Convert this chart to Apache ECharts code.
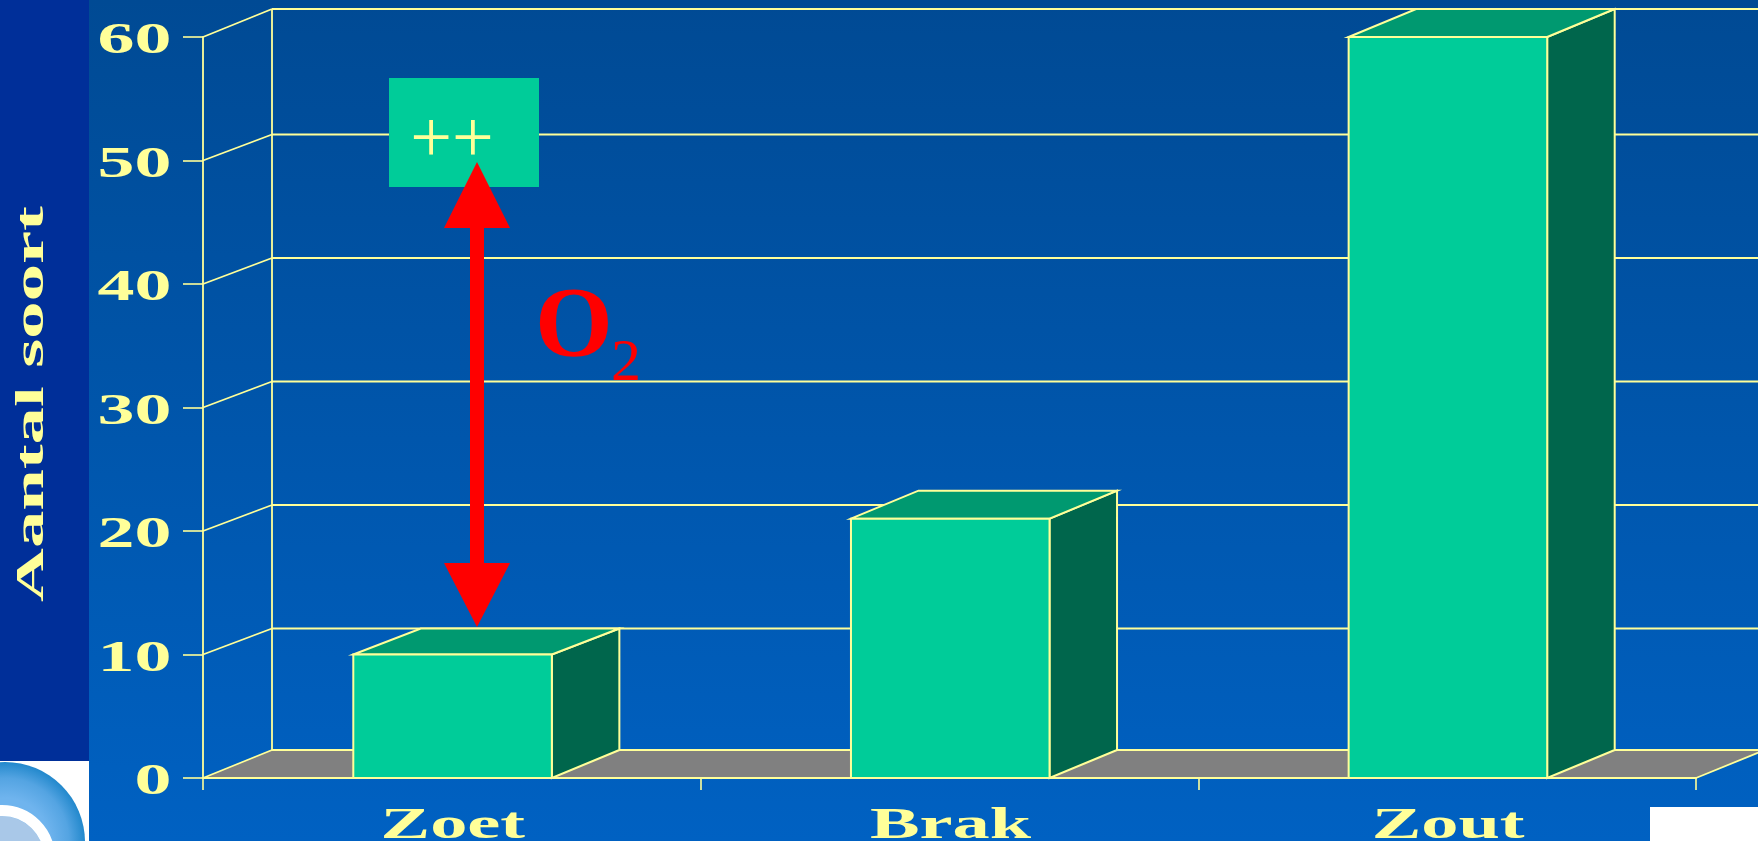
<!DOCTYPE html>
<html>
<head>
<meta charset="utf-8">
<style>html,body{margin:0;padding:0;background:#0060c0}#c{width:1758px;height:841px}</style>
<script src="https://cdn.jsdelivr.net/npm/echarts@6/dist/echarts.min.js"></script>
</head>
<body>
<div id="c"></div>
<script>
const categories = ['Zoet', 'Brak', 'Zout'];
const soorten = [10, 21, 60];
const yTicks = [0, 10, 20, 30, 40, 50, 60];
const yTitle = 'Aantal soort';
const noteText = '++';

const LINE = '#FFFF99', SERIF = '"Liberation Serif", serif';
const DX = 69;
// the reference's perspective offset is slightly smaller on inner gridline levels
const dyAt = v => (v % 10 === 0 && v > 0 && v < 60) ? 26 : 28;

const chart = echarts.init(document.getElementById('c'), null, {renderer: 'canvas'});

function wallItem(params, api) {
  const v = api.value(0), cs = params.coordSys;
  const y = api.coord([0, v])[1], DY = dyAt(v);
  const l = cs.x, r = cs.x + cs.width;
  const children = [];
  const ls = {stroke: LINE, lineWidth: 1.8};
  if (v === 0) {
    children.push({type: 'polygon', shape: {points: [[l, y], [l + DX, y - DY], [r + DX, y - DY], [r, y]]},
      style: {fill: '#808080', stroke: null}});
    const last = yTicks[yTicks.length - 1];
    const top = api.coord([0, last])[1] - dyAt(last);
    children.push({type: 'line', shape: {x1: l + DX, y1: y - DY, x2: l + DX, y2: top}, style: ls});
    children.push({type: 'line', shape: {x1: r, y1: y, x2: r + DX, y2: y - DY}, style: ls});
  }
  children.push({type: 'line', shape: {x1: l, y1: y, x2: l + DX, y2: y - DY}, style: ls});
  children.push({type: 'line', shape: {x1: l + DX, y1: y - DY, x2: r + DX, y2: y - DY}, style: ls});
  return {type: 'group', children};
}

function barItem(params, api) {
  const c = api.coord([api.value(0), api.value(1)]);
  const base = api.coord([api.value(0), 0])[1];
  const w = api.size([1, 0])[0] * 0.4;
  const x0 = c[0] - w / 2 + 1, x1 = c[0] + w / 2 + 0.5, y = c[1];
  const s = {stroke: LINE, lineWidth: 2, lineJoin: 'miter'};
  const d = DX - 1.5, DY = dyAt(api.value(1)), DB = dyAt(0);
  return {type: 'group', children: [
    {type: 'polygon', shape: {points: [[x1, y], [x1 + d, y - DY], [x1 + d, base - DB], [x1, base]]}, style: Object.assign({fill: '#00664C'}, s)},
    {type: 'polygon', shape: {points: [[x0, y], [x0 + d, y - DY], [x1 + d, y - DY], [x1, y]]}, style: Object.assign({fill: '#009970'}, s)},
    {type: 'rect', shape: {x: x0, y: y, width: x1 - x0, height: base - y}, style: Object.assign({fill: '#00CC99'}, s)}
  ]};
}

function yLabelItem(params, api) {
  const v = api.value(0);
  const y = api.coord([0, v])[1];
  return {type: 'text', x: 171.5, y: y + 5, scaleX: 1.68,
    style: {text: String(v), fill: LINE, font: 'bold 44px ' + SERIF, align: 'right', verticalAlign: 'middle'}};
}

function xLabelItem(params, api) {
  const c = api.coord([api.value(0), 0]);
  return {type: 'text', x: c[0] + 1, y: 827, scaleX: 1.69,
    style: {text: categories[api.value(0)], fill: LINE, font: 'bold 44px ' + SERIF, align: 'center', verticalAlign: 'middle'}};
}

const arrowX = 477, arrow = [
  [arrowX, 162], [arrowX + 33, 228], [arrowX + 7, 228], [arrowX + 7, 563], [arrowX + 33, 563],
  [arrowX, 627], [arrowX - 33, 563], [arrowX - 7, 563], [arrowX - 7, 228], [arrowX - 33, 228]
];

chart.setOption({
  animation: false,
  backgroundColor: {type: 'linear', x: 0, y: 0, x2: 0, y2: 1, colorStops: [
    {offset: 0, color: '#004A94'}, {offset: 1, color: '#0061C2'}]},
  grid: {left: 203, top: 37, width: 1493, height: 741, containLabel: false},
  xAxis: {type: 'category', data: categories, boundaryGap: true, z: 5,
    axisLine: {lineStyle: {color: LINE, width: 2}},
    axisTick: {show: true, length: 12, lineStyle: {color: LINE, width: 1.6}},
    axisLabel: {show: false}, splitLine: {show: false}},
  yAxis: {type: 'value', min: 0, max: 60, interval: 10,
    axisLine: {show: true, lineStyle: {color: LINE, width: 1.8}},
    axisTick: {show: true, length: 20, lineStyle: {color: LINE, width: 1.6}},
    axisLabel: {show: false}, splitLine: {show: false}},
  series: [
    {type: 'custom', name: 'wall', data: yTicks.map(v => [v]), encode: {y: 0}, renderItem: wallItem, z: 1, silent: true},
    {type: 'custom', name: 'Aantal soort', data: categories.map((c, i) => [i, soorten[i]]), encode: {x: 0, y: 1}, renderItem: barItem, z: 3},
    {type: 'custom', name: 'yLabels', data: yTicks.map(v => [v]), encode: {y: 0}, renderItem: yLabelItem, z: 6, silent: true},
    {type: 'custom', name: 'xLabels', data: categories.map((c, i) => [i]), encode: {x: 0}, renderItem: xLabelItem, z: 6, silent: true}
  ],
  graphic: [
    {type: 'rect', z: 0, shape: {x: 0, y: 0, width: 89, height: 761}, style: {fill: '#002F99'}},
    {type: 'group', z: 0, children: [
      {type: 'rect', shape: {x: 0, y: 761, width: 89, height: 80}, style: {fill: '#FFFFFF'}},
      {type: 'circle', shape: {cx: 5, cy: 842, r: 80}, style: {fill: {type: 'radial', x: 0.5, y: 0.5, r: 0.5, colorStops: [
        {offset: 0.55, color: '#6FB4EE'}, {offset: 0.8, color: '#54A4E2'}, {offset: 1, color: '#2288CC'}]}}},
      {type: 'circle', shape: {cx: 2, cy: 858, r: 42}, style: {fill: '#A9C8E8'}},
      {type: 'circle', shape: {cx: 2, cy: 858, r: 47.5}, style: {fill: null, stroke: '#FFFFFF', lineWidth: 11}}
    ]},
    {type: 'rect', z: 0, shape: {x: 1650, y: 807, width: 108, height: 34}, style: {fill: '#FFFFFF'}},
    {type: 'text', z: 20, x: 32, y: 404, rotation: Math.PI / 2, scaleX: 1.82,
      style: {text: yTitle, fill: LINE, font: 'bold 41px ' + SERIF, align: 'center', verticalAlign: 'middle'}},
    {type: 'rect', z: 20, shape: {x: 389, y: 78, width: 150, height: 109}, style: {fill: '#00CC99'}},
    {type: 'text', z: 21, x: 452, y: 143,
      style: {text: noteText, fill: LINE, font: '74px ' + SERIF, align: 'center', verticalAlign: 'middle'}},
    {type: 'polygon', z: 22, shape: {points: arrow}, style: {fill: '#FF0000'}},
    {type: 'text', z: 22, x: 574, y: 329,
      style: {text: 'O', fill: '#FF0000', font: 'bold 100px ' + SERIF, align: 'center', verticalAlign: 'middle'}},
    {type: 'text', z: 22, x: 626, y: 364,
      style: {text: '2', fill: '#FF0000', font: '60px ' + SERIF, align: 'center', verticalAlign: 'middle'}}
  ]
});
</script>
</body>
</html>
